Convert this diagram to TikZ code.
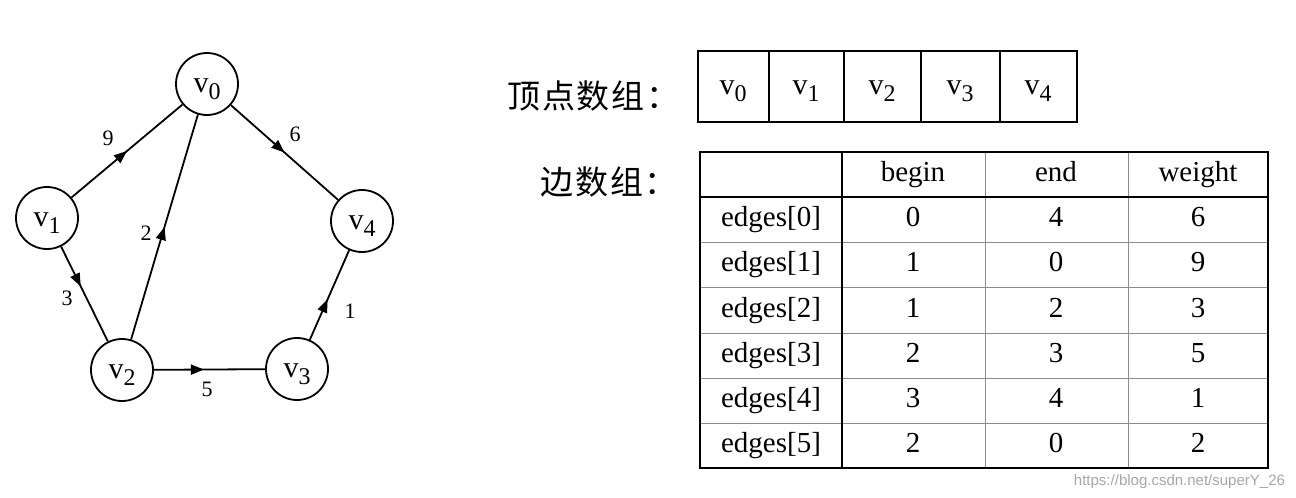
\documentclass[tikz,border=0pt]{standalone}
\usepackage{fontspec}
\setmainfont{Liberation Serif}
\newfontfamily\cjk[LetterSpace=6]{Noto Sans CJK SC}
\newfontfamily\wmfont{Liberation Sans}
\usetikzlibrary{arrows.meta,decorations.markings}
\newcommand{\vsub}[1]{v\raisebox{-3.5pt}{\fontsize{12}{12}\selectfont #1}}
\tikzset{
  vlabel/.style={text height=9pt,text depth=1pt,font=\fontsize{15}{16}\selectfont},
  vertex/.style={circle,draw,line width=0.9pt,minimum size=31pt,inner sep=0pt,vlabel},
  weight/.style={font=\fontsize{11}{12}\selectfont},
  edge/.style={line width=0.9pt},
  mid arrow/.style={postaction=decorate,decoration={markings,mark=at position #1 with {\arrow{Triangle[length=6.5pt,width=5pt]}}}},
  cell/.style={text height=0.7em,text depth=0.2em,font=\fontsize{14.5}{16}\selectfont},
  arrname/.style={anchor=west,font=\cjk\fontsize{16.5}{18}\selectfont},
  thickline/.style={line width=1.4pt},
  thinline/.style={line width=0.5pt,black!45}
}
\begin{document}
\begin{tikzpicture}[x=0.5pt,y=-0.5pt]
\useasboundingbox (0,0) rectangle (1296,498);
% graph
\node[vertex] (v0) at (207,84) {\vsub{0}};
\node[vertex] (v1) at (47,218) {\vsub{1}};
\node[vertex] (v2) at (122,370) {\vsub{2}};
\node[vertex] (v3) at (297,369) {\vsub{3}};
\node[vertex] (v4) at (362,221) {\vsub{4}};
\draw[edge,mid arrow=0.5] (v1) -- (v0); \node[weight] (w9) at (108,138) {9};
\draw[edge,mid arrow=0.5] (v0) -- (v4); \node[weight] (w6) at (295,134) {6};
\draw[edge,mid arrow=0.5] (v2) -- (v0); \node[weight] (w2) at (146,233) {2};
\draw[edge,mid arrow=0.42] (v1) -- (v2); \node[weight] (w3) at (67,298) {3};
\draw[edge,mid arrow=0.45] (v2) -- (v3); \node[weight] (w5) at (207,389) {5};
\draw[edge,mid arrow=0.45] (v3) -- (v4); \node[weight] (w1) at (350,311) {1};
% vertex array
\node[arrname] (vname) at (500,96) {顶点数组：};
\draw[thickline] (698,51) rectangle (1077,122);
\draw[thickline] (769,51) -- (769,122) (844,51) -- (844,122) (921,51) -- (921,122) (1000,51) -- (1000,122);
\node[vlabel] (a0) at (733,86) {\vsub{0}}; \node[vlabel] (a1) at (806,86) {\vsub{1}};
\node[vlabel] (a2) at (882,86) {\vsub{2}}; \node[vlabel] (a3) at (960,86) {\vsub{3}};
\node[vlabel] (a4) at (1038,86) {\vsub{4}};
% edge array
\node[arrname] (ename) at (533,182) {边数组：};
\draw[thinline] (985,152) -- (985,468) (1128,152) -- (1128,468);
\draw[thinline] (700,242) -- (1268,242) (700,287) -- (1268,287) (700,333) -- (1268,333) (700,378) -- (1268,378) (700,423) -- (1268,423);
\draw[thickline] (700,152) rectangle (1268,468);
\draw[thickline] (700,197) -- (1268,197) (842,152) -- (842,468);
\node[cell] (hb) at (913,176) {begin}; \node[cell] (he) at (1056,176) {end}; \node[cell] (hw) at (1198,176) {weight};
\node[cell] (e0) at (771,221) {edges[0]}; \node[cell] (b0) at (913,221) {0}; \node[cell] (n0) at (1056,221) {4}; \node[cell] (c0) at (1198,221) {6};
\node[cell] (e1) at (771,266) {edges[1]}; \node[cell] (b1) at (913,266) {1}; \node[cell] (n1) at (1056,266) {0}; \node[cell] (c1) at (1198,266) {9};
\node[cell] (e2) at (771,312) {edges[2]}; \node[cell] (b2) at (913,312) {1}; \node[cell] (n2) at (1056,312) {2}; \node[cell] (c2) at (1198,312) {3};
\node[cell] (e3) at (771,357) {edges[3]}; \node[cell] (b3) at (913,357) {2}; \node[cell] (n3) at (1056,357) {3}; \node[cell] (c3) at (1198,357) {5};
\node[cell] (e4) at (771,402) {edges[4]}; \node[cell] (b4) at (913,402) {3}; \node[cell] (n4) at (1056,402) {4}; \node[cell] (c4) at (1198,402) {1};
\node[cell] (e5) at (771,447) {edges[5]}; \node[cell] (b5) at (913,447) {2}; \node[cell] (n5) at (1056,447) {0}; \node[cell] (c5) at (1198,447) {2};
\node[anchor=east,text=black!35,font=\wmfont\fontsize{7.5}{8}\selectfont] (wm) at (1292,482) {https://blog.csdn.net/superY\_26};
\end{tikzpicture}
\end{document}
